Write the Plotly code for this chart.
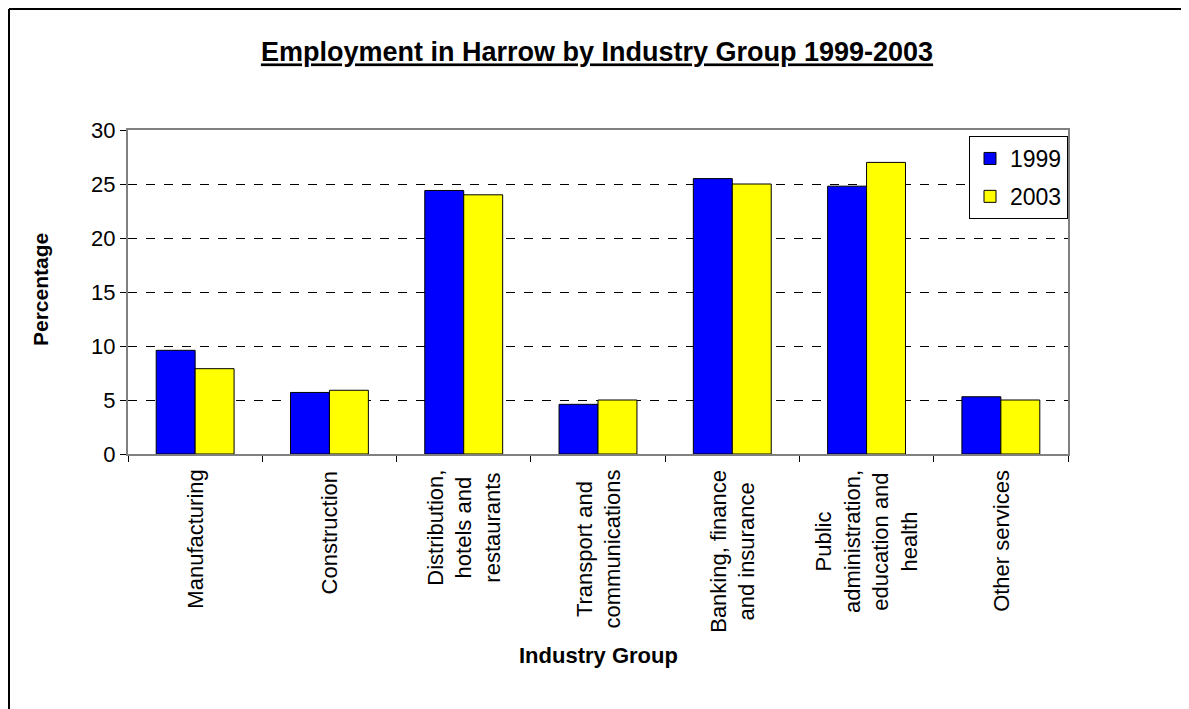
"""
Emprego em Harrow por grupo de indústria, 1999 e 2003.
"""
import plotly.graph_objs as go

categorias = [
    "Manufacturing",
    "Construction",
    "Distribution, hotels and restaurants",
    "Transport and communications",
    "Banking, finance and insurance",
    "Public administration, education and health",
    "Other services",
]
rotulos = [
    "Manufacturing",
    "Construction",
    "Distribution,<br>hotels and<br>restaurants",
    "Transport and<br>communications",
    "Banking, finance<br>and insurance",
    "Public<br>administration,<br>education and<br>health",
    "Other services",
]
valores_1999 = [9.6, 5.7, 24.4, 4.6, 25.5, 24.8, 5.3]
valores_2003 = [7.9, 5.9, 24.0, 5.0, 25.0, 27.0, 5.0]
y_ticks = [0, 5, 10, 15, 20, 25, 30]

FONT = "Liberation Sans, Arial, sans-serif"

# a página tem margem de 8px no body; tudo abaixo em px da referência
OFF = 8
FIG_W, FIG_H = 1189 - OFF, 709 - OFF
L, T, W, H = 128, 130, 940, 324


def px_x(v):
    return (v - L) / W


def px_y(v):
    return (T + H - v) / H


fig = go.Figure()
fig.add_trace(go.Bar(
    x=categorias,
    y=valores_1999,
    name="1999",
    legendgroup="a",
    marker=dict(color="#0000FF", line=dict(color="black", width=1)),
))
fig.add_trace(go.Bar(
    x=categorias,
    y=valores_2003,
    name="2003",
    legendgroup="b",
    marker=dict(color="#FFFF00", line=dict(color="black", width=1)),
))

# rótulos das categorias, centralizados como no original
for cat, rot in zip(categorias, rotulos):
    fig.add_annotation(
        x=cat, xref="x", y=0, yref="paper",
        text=rot, textangle=-90, align="center",
        xanchor="center", yanchor="top", yshift=-14,
        showarrow=False, font=dict(size=22),
    )

fig.add_annotation(
    x=0.5, xref="paper", y=px_y(655), yref="paper",
    text="<b>Industry Group</b>", showarrow=False,
    xanchor="center", yanchor="middle", font=dict(size=22),
)
fig.add_annotation(
    x=px_x(40), xref="paper", y=px_y(290), yref="paper",
    text="<b>Percentage</b>", textangle=-90, showarrow=False,
    xanchor="center", yanchor="middle", font=dict(size=21),
)

# moldura externa (só esquerda e topo aparecem no recorte);
# fica na borda da figura, o mais perto possível do original
fx, fy = px_x(OFF + 1), px_y(OFF + 1)
fig.add_shape(type="line", xref="paper", yref="paper",
              x0=fx, x1=fx, y0=px_y(720), y1=fy,
              line=dict(color="black", width=2))
fig.add_shape(type="line", xref="paper", yref="paper",
              x0=fx, x1=px_x(1200), y0=fy, y1=fy,
              line=dict(color="black", width=2))

fig.update_layout(
    width=FIG_W,
    height=FIG_H,
    margin=dict(l=L - OFF, r=FIG_W - (L - OFF) - W, t=T - OFF,
                b=FIG_H - (T - OFF) - H),
    plot_bgcolor="white",
    paper_bgcolor="white",
    font=dict(family=FONT, size=22, color="black"),
    barmode="group",
    bargap=0.42,
    bargroupgap=0,
    title=dict(
        text="<b><u>Employment in Harrow by Industry Group 1999-2003</u></b>",
        x=(597 - OFF) / FIG_W,
        xanchor="center",
        y=1 - (52 - OFF) / FIG_H,
        yanchor="middle",
        font=dict(family=FONT, size=27, color="black"),
    ),
    xaxis=dict(
        showticklabels=False,
        ticks="outside",
        tickson="boundaries",
        ticklen=6,
        tickcolor="black",
        showline=True,
        linecolor="#808080",
        linewidth=2,
        mirror=True,
        showgrid=False,
    ),
    yaxis=dict(
        range=[0, 30],
        tickvals=y_ticks,
        ticks="outside",
        ticklen=6,
        tickcolor="black",
        tickfont=dict(size=22),
        showline=True,
        linecolor="#808080",
        linewidth=2,
        mirror=True,
        showgrid=True,
        gridcolor="black",
        griddash="dash",
        gridwidth=1,
        zeroline=False,
    ),
    legend=dict(
        x=1,
        xanchor="right",
        y=px_y(136),
        yanchor="top",
        bgcolor="white",
        bordercolor="black",
        borderwidth=1,
        font=dict(size=23),
        traceorder="grouped",
        tracegroupgap=5,
    ),
    showlegend=True,
)

fig.write_html("out.html")
